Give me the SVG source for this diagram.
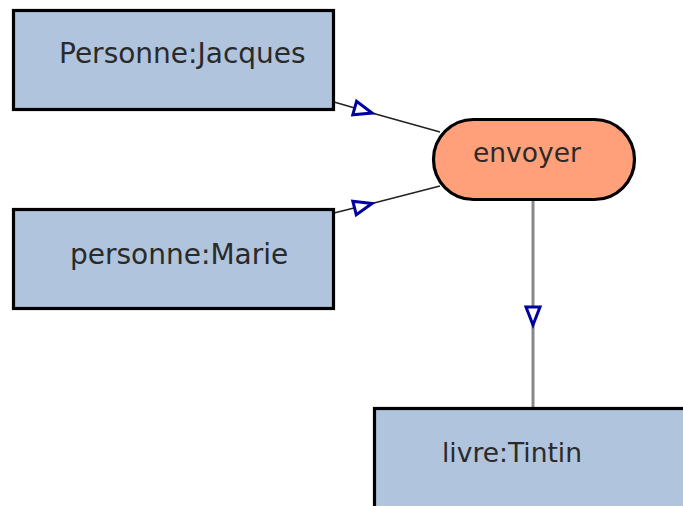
<svg xmlns="http://www.w3.org/2000/svg" width="683" height="506" viewBox="0 0 683 506">
  <style>
    .concept { fill: #b0c4de; stroke: #000; stroke-width: 3.2; }
    .relation { fill: #ffa07a; stroke: #000; stroke-width: 3.2; }
    .label { font-family: "DejaVu Sans", sans-serif; font-size: 28px; fill: #2a2a2a; }
    .small { font-size: 26.5px; }
    .edge { fill: none; stroke: #222; stroke-width: 1.6; }
    .edge-out { fill: none; stroke: #888; stroke-width: 3; }
  </style>
  <defs>
    <marker id="tri" markerUnits="userSpaceOnUse" markerWidth="26" markerHeight="22" viewBox="-22 -11 26 22" refX="0" refY="0" orient="auto">
      <path d="M0,0 L-18,-7 L-18,7 Z" fill="#fff" stroke="#0000a0" stroke-width="3" stroke-linejoin="miter"/>
    </marker>
  </defs>
  <rect width="683" height="506" fill="#fff"/>

  <g id="connectors">
    <path class="edge" d="M334,102 L372,113 L440,132" marker-mid="url(#tri)"/>
    <path class="edge" d="M334,213 L372,203.5 L440,186" marker-mid="url(#tri)"/>
    <path class="edge-out" d="M533,199 L533,325 L533,408" marker-mid="url(#tri)"/>
  </g>

  <g id="personne-jacques">
    <rect class="concept" x="13.5" y="10.5" width="320" height="99"/>
    <text class="label" x="59" y="63">Personne:Jacques</text>
  </g>
  <g id="personne-marie">
    <rect class="concept" x="13.5" y="209.5" width="320" height="99"/>
    <text class="label" x="70" y="264">personne:Marie</text>
  </g>
  <g id="envoyer">
    <rect class="relation" x="433.5" y="119.5" width="201" height="80" rx="40" ry="40"/>
    <text class="label small" x="473" y="162">envoyer</text>
  </g>
  <g id="livre-tintin">
    <rect class="concept" x="374.5" y="408.5" width="320" height="110"/>
    <text class="label small" x="442" y="462">livre:Tintin</text>
  </g>
</svg>
